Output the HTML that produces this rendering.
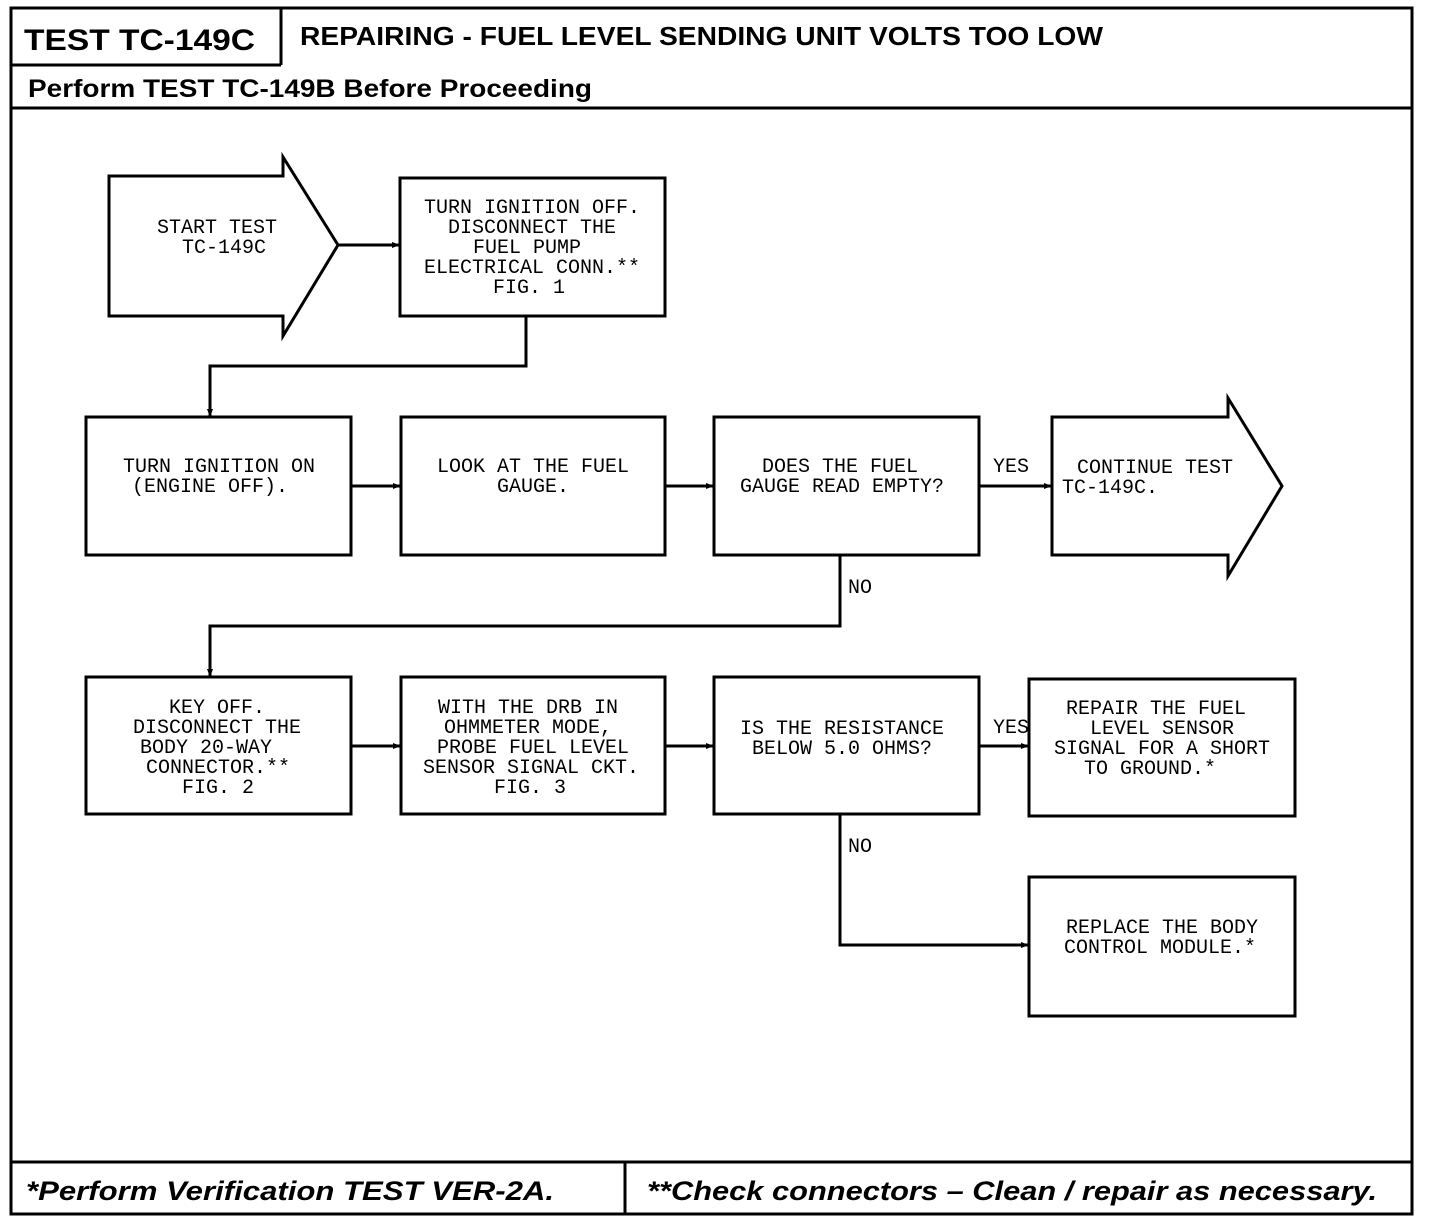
<!DOCTYPE html>
<html><head><meta charset="utf-8"><style>body{margin:0;background:#fff}svg{display:block}</style></head><body>
<svg width="1440" height="1224" viewBox="0 0 1440 1224" xmlns="http://www.w3.org/2000/svg">
<defs><marker id="a" markerWidth="8" markerHeight="8" refX="7" refY="4" orient="auto" markerUnits="userSpaceOnUse"><path d="M0,1 L8,4 L0,7z" fill="#000"/></marker></defs>
<g fill="none" stroke="#000" stroke-width="3">
<rect x="11" y="8" width="1401" height="1206"/>
<line x1="281" y1="8" x2="281" y2="65"/>
<line x1="11" y1="65" x2="281" y2="65"/>
<line x1="11" y1="108" x2="1412" y2="108"/>
<line x1="11" y1="1162" x2="1412" y2="1162"/>
<line x1="625" y1="1162" x2="625" y2="1214"/>
<path d="M109,176 H283 V157 L338,245 L283,336 V316 H109 Z"/>
<path d="M1052,417 H1228 V398 L1282,486 L1228,576 V555 H1052 Z"/>
<rect x="400" y="178" width="265" height="138"/>
<rect x="86" y="417" width="265" height="138"/>
<rect x="401" y="417" width="264" height="138"/>
<rect x="714" y="417" width="265" height="138"/>
<rect x="86" y="677" width="265" height="137"/>
<rect x="401" y="677" width="264" height="137"/>
<rect x="714" y="677" width="265" height="137"/>
<rect x="1029" y="679" width="266" height="137"/>
<rect x="1029" y="877" width="266" height="139"/>
</g>
<g fill="none" stroke="#000" stroke-width="3" marker-end="url(#a)">
<line x1="338" y1="245" x2="399" y2="245"/>
<path d="M526,316 V366 H210 V416"/>
<line x1="351" y1="486" x2="400" y2="486"/>
<line x1="665" y1="486" x2="713" y2="486"/>
<line x1="979" y1="486" x2="1051" y2="486"/>
<path d="M840,555 V626 H210 V676"/>
<line x1="351" y1="746" x2="400" y2="746"/>
<line x1="665" y1="746" x2="713" y2="746"/>
<line x1="979" y1="746" x2="1028" y2="746"/>
<path d="M840,814 V945 H1028"/>
</g>
<g font-family="Liberation Sans, sans-serif" font-weight="bold" fill="#000">
<text x="24" y="50" font-size="30" textLength="231" lengthAdjust="spacingAndGlyphs">TEST TC-149C</text>
<text x="300" y="45" font-size="26" textLength="803" lengthAdjust="spacingAndGlyphs">REPAIRING - FUEL LEVEL SENDING UNIT VOLTS TOO LOW</text>
<text x="28" y="97" font-size="25" textLength="564" lengthAdjust="spacingAndGlyphs">Perform TEST TC-149B Before Proceeding</text>
<text x="26" y="1200" font-size="27" font-style="italic" textLength="528" lengthAdjust="spacingAndGlyphs">*Perform Verification TEST VER-2A.</text>
<text x="647" y="1200" font-size="27" font-style="italic" textLength="730" lengthAdjust="spacingAndGlyphs">**Check connectors – Clean / repair as necessary.</text>
</g>
<g font-family="Liberation Mono, monospace" font-size="20" fill="#000" text-anchor="middle">
<text x="217" y="233">START TEST</text><text x="224" y="253">TC-149C</text>
<text x="532" y="213">TURN IGNITION OFF.</text><text x="532" y="233">DISCONNECT THE</text><text x="527" y="253">FUEL PUMP</text><text x="532" y="273">ELECTRICAL CONN.**</text><text x="529" y="293">FIG. 1</text>
<text x="219" y="472">TURN IGNITION ON</text><text x="210" y="492">(ENGINE OFF).</text>
<text x="533" y="472">LOOK AT THE FUEL</text><text x="533" y="492">GAUGE.</text>
<text x="840" y="472">DOES THE FUEL</text><text x="842" y="492">GAUGE READ EMPTY?</text>
<text x="1155" y="473" text-anchor="start" x="1077">&#8203;</text>
<text x="1155" y="473">CONTINUE TEST</text><text x="1110" y="493">TC-149C.</text>
<text x="217" y="713">KEY OFF.</text><text x="217" y="733">DISCONNECT THE</text><text x="206" y="753">BODY 20-WAY</text><text x="218" y="773">CONNECTOR.**</text><text x="218" y="793">FIG. 2</text>
<text x="528" y="713">WITH THE DRB IN</text><text x="528" y="733">OHMMETER MODE,</text><text x="533" y="753">PROBE FUEL LEVEL</text><text x="531" y="773">SENSOR SIGNAL CKT.</text><text x="530" y="793">FIG. 3</text>
<text x="842" y="734">IS THE RESISTANCE</text><text x="842" y="754">BELOW 5.0 OHMS?</text>
<text x="1156" y="714">REPAIR THE FUEL</text><text x="1162" y="734">LEVEL SENSOR</text><text x="1162" y="754">SIGNAL FOR A SHORT</text><text x="1150" y="774">TO GROUND.*</text>
<text x="1162" y="933">REPLACE THE BODY</text><text x="1160" y="953">CONTROL MODULE.*</text>
</g>
<g font-family="Liberation Mono, monospace" font-size="20" fill="#000">
<text x="993" y="472">YES</text><text x="848" y="593">NO</text>
<text x="993" y="733">YES</text><text x="848" y="852">NO</text>
</g>
</svg>
</body></html>
